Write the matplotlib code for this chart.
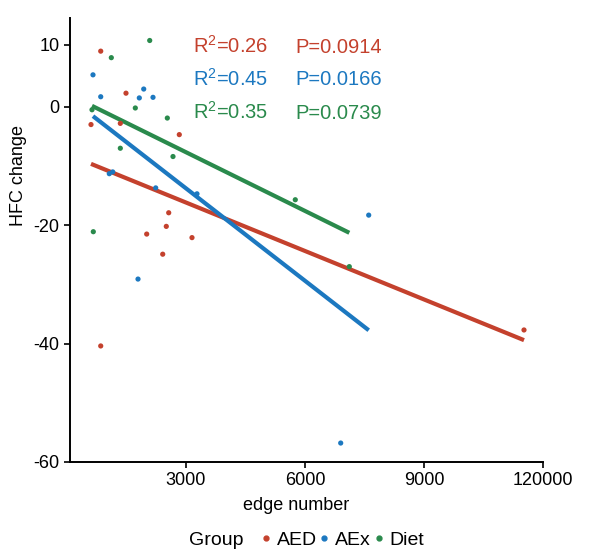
import numpy as np
import matplotlib
matplotlib.use("Agg")
import matplotlib.pyplot as plt
from matplotlib.lines import Line2D

plt.rcParams['font.family'] = ['Liberation Sans', 'DejaVu Sans']
plt.rcParams['mathtext.fontset'] = 'custom'
plt.rcParams['mathtext.rm'] = 'Liberation Sans'
plt.rcParams['mathtext.default'] = 'regular'

# edge number / HFC change per group
aed_x = [850, 1487, 605, 1344, 2831, 2564, 2503, 2009, 3151, 2413, 850, 11521]
aed_y = [9.4, 2.3, -3.0, -2.8, -4.7, -17.9, -20.2, -21.5, -22.1, -24.9, -40.4, -37.7]

aex_x = [655, 850, 1934, 1823, 2168, 1066, 1152, 2236, 3277, 1790, 7606, 6900]
aex_y = [5.4, 1.7, 3.0, 1.5, 1.6, -11.3, -11.0, -13.7, -14.7, -29.1, -18.3, -56.8]

diet_x = [2085, 1117, 1722, 630, 1344, 2529, 2672, 663, 5755, 7117]
diet_y = [11.2, 8.3, -0.2, -0.5, -7.0, -1.9, -8.4, -21.1, -15.7, -27.0]

groups = ["AED", "AEx", "Diet"]
colors = ["#C4412D", "#1C78C0", "#2A8A4C"]
r2_labels = ["R$^2$=0.26", "R$^2$=0.45", "R$^2$=0.35"]
p_labels = ["P=0.0914", "P=0.0166", "P=0.0739"]

xticks = [3000, 6000, 9000, 12000]
xtick_labels = ["3000", "6000", "9000", "120000"]
yticks = [10.5, 0, -20, -40, -60]
ytick_labels = ["10", "0", "-20", "-40", "-60"]

fig = plt.figure(figsize=(6, 5.54), dpi=100)
ax = fig.add_axes([0.1167, 0.1661, 0.7883, 0.8014])

data = [(aed_x, aed_y), (aex_x, aex_y), (diet_x, diet_y)]
for (xs, ys), c in zip(data, colors):
    xs = np.array(xs, dtype=float)
    ys = np.array(ys, dtype=float)
    ax.scatter(xs, ys, s=14, color=c, edgecolors='none', zorder=3)
    # linear fit like geom_smooth(method = lm)
    slope, icpt = np.polyfit(xs, ys, 1)
    xx = np.array([xs.min(), xs.max()])
    ax.plot(xx, slope * xx + icpt, color=c, lw=3, solid_capstyle='butt', zorder=2)

# annotation rows
text_y = [9.1, 3.6, -2.0]
for r2, p, ty, c in zip(r2_labels, p_labels, text_y, colors):
    ax.text(3184, ty, r2, color=c, fontsize=14.5, va='baseline', ha='left')
    ax.text(5750, ty, p, color=c, fontsize=14.5, va='baseline', ha='left')

ax.set_xlim(76, 12000)
ax.set_ylim(-60, 15)
ax.set_xticks(xticks)
ax.set_xticklabels(xtick_labels)
ax.set_yticks(yticks)
ax.set_yticklabels(ytick_labels)
ax.tick_params(axis='both', labelsize=13, length=4, width=1.2, color='black', labelcolor='black')
for side in ['top', 'right']:
    ax.spines[side].set_visible(False)
for side in ['left', 'bottom']:
    ax.spines[side].set_linewidth(1.4)

ax.set_xlabel("edge number", fontsize=13)
ax.set_ylabel("HFC change", fontsize=13)
ax.xaxis.set_label_coords(0.478, -0.078)
ax.yaxis.set_label_coords(-0.092, 0.645)

handles = [Line2D([], [], marker='o', ls='none', color=c, markersize=3.5) for c in colors]
fig.text(0.3155, 0.0247, "Group", fontsize=14, va='center', ha='left')
fig.legend(handles, groups, loc='center left', bbox_to_anchor=(0.4333, 0.0247), ncol=3,
           frameon=False, fontsize=14, handlelength=0.6, handletextpad=0.25,
           columnspacing=0.1, borderpad=0, borderaxespad=0)

fig.savefig("out.png", dpi=100)
